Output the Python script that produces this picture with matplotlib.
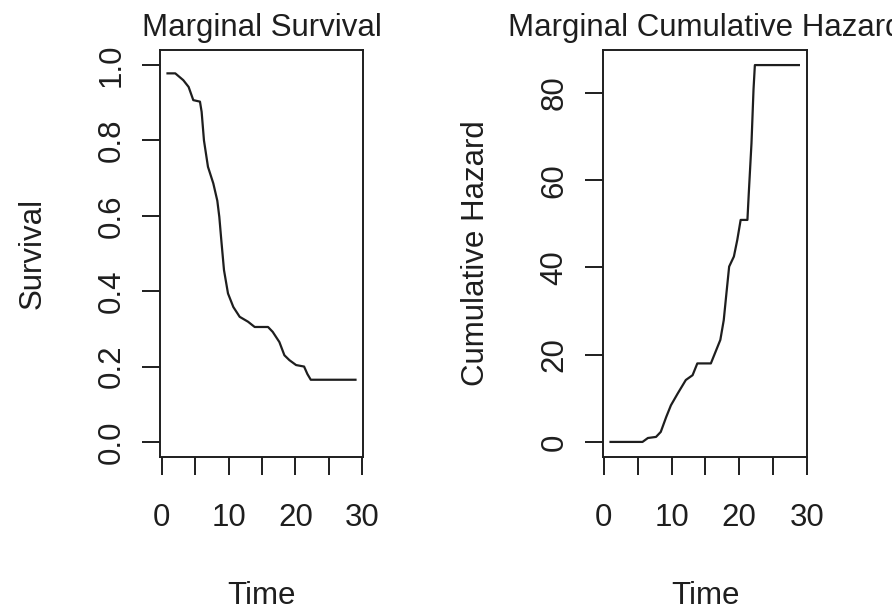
import numpy as np
import matplotlib
matplotlib.use("Agg")
import matplotlib.pyplot as plt

plt.rcParams['font.family'] = ['Liberation Sans', 'DejaVu Sans']

# marginal survival
surv_time = [0.84, 2.0, 3.2, 4.0, 4.7, 5.7, 5.95, 6.3, 6.9, 7.7, 8.3, 8.6, 8.9, 9.3,
             9.9, 10.7, 11.65, 12.9, 13.9, 15.9, 16.6, 17.6, 18.35, 19.1, 20.1,
             21.3, 21.8, 22.3, 29.0]
surv = [0.978, 0.978, 0.96, 0.942, 0.907, 0.903, 0.876, 0.80, 0.73, 0.686, 0.64,
        0.597, 0.535, 0.456, 0.394, 0.358, 0.332, 0.319, 0.305, 0.305, 0.292,
        0.265, 0.23, 0.217, 0.204, 0.20, 0.18, 0.165, 0.165]

# marginal cumulative hazard
haz_time = [0.98, 5.7, 6.5, 7.7, 8.4, 9.2, 9.9, 10.9, 12.1, 13.1, 13.8, 15.8, 16.5,
            17.2, 17.7, 18.1, 18.5, 19.2, 19.7, 20.2, 21.2, 21.4, 21.8, 22.1, 22.3,
            28.8]
haz = [0, 0, 0.9, 1.15, 2.3, 5.7, 8.4, 11.1, 14.2, 15.3, 18.0, 18.0, 20.7, 23.4,
       27.9, 34.1, 40.2, 42.5, 46.3, 50.9, 50.9, 57.0, 68.5, 80.8, 86.4, 86.4]

FS = 22.5
INK = '#1e1e1e'


def r_range(lo, hi):
    d = (hi - lo) * 0.04
    return lo - d, hi + d


def style(ax, xlab, ylab, title, yticks, yfmt):
    for s in ax.spines.values():
        s.set_linewidth(1.4)
        s.set_color(INK)
    ax.set_xticks([0, 5, 10, 15, 20, 25, 30])
    ax.set_xticklabels(['0', '', '10', '', '20', '', '30'])
    ax.set_yticks(yticks)
    ax.set_yticklabels([yfmt % v for v in yticks], rotation=90, va='center')
    ax.tick_params(direction='out', length=13, width=1.4, color=INK,
                   labelsize=FS, labelcolor=INK)
    ax.tick_params(axis='x', pad=20)
    ax.tick_params(axis='y', pad=11)
    ax.set_xlabel(xlab, fontsize=FS, color=INK, labelpad=35)
    ax.set_ylabel(ylab, fontsize=FS, color=INK, labelpad=35)
    ax.set_title(title, fontsize=FS, color=INK, pad=10)


fig = plt.figure(figsize=(8.92, 6.12), dpi=100)
ax1 = fig.add_axes([160 / 892, 1 - 457 / 612, 203 / 892, 407 / 612])
ax2 = fig.add_axes([603 / 892, 1 - 457 / 612, 204 / 892, 407 / 612])

ax1.plot(surv_time, surv, color=INK, lw=1.6)
ax1.set_xlim(*r_range(min(surv_time), max(surv_time)))
ax1.set_ylim(*r_range(0, 1))
style(ax1, 'Time', 'Survival', 'Marginal Survival',
      [0, 0.2, 0.4, 0.6, 0.8, 1.0], '%.1f')

ax2.plot(haz_time, haz, color=INK, lw=1.6)
ax2.set_xlim(*r_range(min(haz_time), max(haz_time)))
ax2.set_ylim(*r_range(0, max(haz)))
style(ax2, 'Time', 'Cumulative Hazard', 'Marginal Cumulative Hazard',
      [0, 20, 40, 60, 80], '%d')

fig.savefig('out.png', dpi=100)
